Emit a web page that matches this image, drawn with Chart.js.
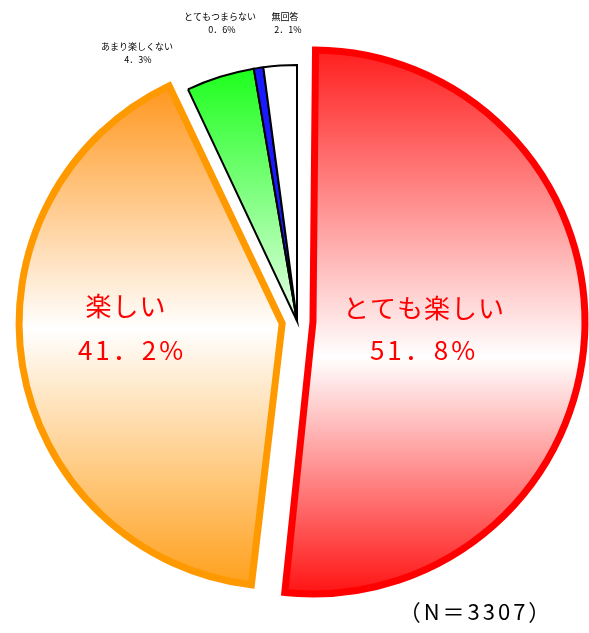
<!DOCTYPE html>
<html lang="ja">
<head>
<meta charset="utf-8">
<title>楽しさ</title>
<script src="https://cdn.jsdelivr.net/npm/chart.js@4/dist/chart.umd.min.js"></script>
<style>
  html, body { margin: 0; padding: 0; background: #ffffff; }
  #wrap { width: 589px; height: 633px; position: relative; }
</style>
</head>
<body>
<div id="wrap"><canvas id="graphPie"></canvas></div>
<script>
// ============================================
// Données
// ============================================
var categories = ["とても楽しい", "楽しい", "あまり楽しくない", "とてもつまらない", "無回答"];
var valeurs = [51.8, 41.2, 4.3, 0.6, 2.1];
var pourcentages = ["51．8%", "41．2%", "4．3%", "0．6%", "2．1%"];
var effectif = "（N＝3307）";

var RAYON = 256;

// Dégradé vertical selon la part
function degrade(context) {
    var chart = context.chart;
    var area = chart.chartArea;
    if (!area) return "#ffffff";
    var cy = (area.top + area.bottom) / 2;
    var c = chart.ctx;
    var g;
    switch (context.dataIndex) {
        case 0:
            g = c.createLinearGradient(0, cy - 270, 0, cy + 275);
            g.addColorStop(0, "#ff2020");
            g.addColorStop(0.56, "#ffffff");
            g.addColorStop(1, "#ff1010");
            return g;
        case 1:
            g = c.createLinearGradient(0, cy - 230, 0, cy + 270);
            g.addColorStop(0, "#ff9a25");
            g.addColorStop(0.47, "#ffffff");
            g.addColorStop(1, "#ff9d15");
            return g;
        case 2:
            g = c.createLinearGradient(0, cy - RAYON, 0, cy);
            g.addColorStop(0, "#1aff1a");
            g.addColorStop(1, "#e6ffe6");
            return g;
        case 3:
            return "#1a1aff";
        default:
            return "#ffffff";
    }
}

// Textes dessinés sur le graphique
var textesPlugin = {
    id: "textes",
    afterDatasetsDraw: function (chart) {
        var c = chart.ctx;
        c.save();
        c.textAlign = "center";
        c.textBaseline = "middle";
        c.fillStyle = "#ff0000";
        c.font = "26px 'Noto Sans CJK JP', sans-serif";
        c.letterSpacing = "1px";
        c.fillText(categories[0], 424, 308);
        c.fillText(categories[1], 126, 306);
        c.letterSpacing = "3px";
        c.fillText(pourcentages[0], 424, 350);
        c.fillText(pourcentages[1], 132, 350);

        c.fillStyle = "#000000";
        c.letterSpacing = "0px";
        c.font = "9px 'Noto Sans CJK JP', sans-serif";
        c.fillText(categories[2], 137, 47);
        c.fillText(pourcentages[2], 138, 60);
        c.fillText(categories[3], 220, 17);
        c.fillText(pourcentages[3], 222, 30);
        c.fillText(categories[4], 285, 17);
        c.fillText(pourcentages[4], 288, 30);

        c.font = "22px 'Noto Sans CJK JP', sans-serif";
        c.letterSpacing = "3px";
        c.fillText(effectif, 476, 612);
        c.restore();
    }
};

var ctx = document.getElementById("graphPie").getContext("2d");
new Chart(ctx, {
    type: "pie",
    data: {
        labels: categories,
        datasets: [{
            data: valeurs,
            backgroundColor: degrade,
            borderColor: ["#ff0000", "#ff9900", "#000000", "#000000", "#000000"],
            borderWidth: [7, 7, 2, 2, 2],
            borderJoinStyle: "miter",
            // Chart.js v4 divise l'offset par 4
            offset: [64, 60, 0, 0, 0]
        }]
    },
    options: {
        responsive: true,
        maintainAspectRatio: false,
        animation: false,
        radius: RAYON,
        layout: { padding: { left: 5, right: 0, top: 20, bottom: 11 } },
        plugins: {
            legend: { display: false },
            tooltip: { enabled: false }
        }
    },
    plugins: [textesPlugin]
});
</script>
</body>
</html>
